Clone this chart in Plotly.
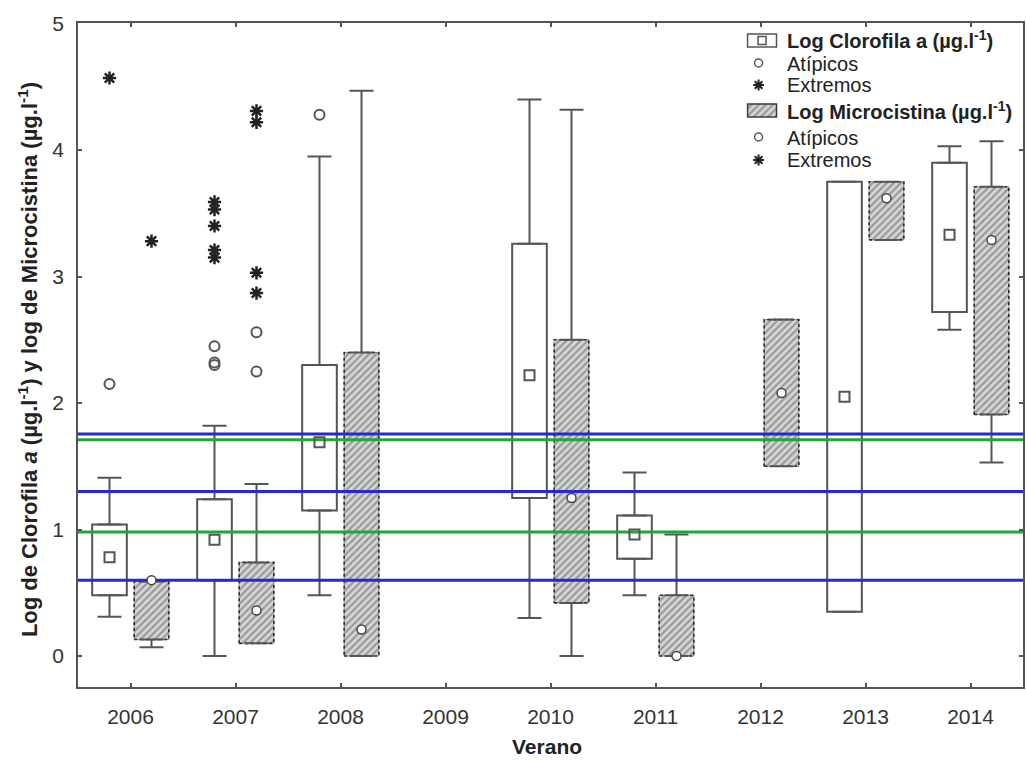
import plotly.graph_objects as go

# Summer campaigns
years = [2006, 2007, 2008, 2009, 2010, 2011, 2012, 2013, 2014]

# Log chlorophyll a: range / quartiles / median per summer (None = no data)
chl_min = [0.31, 0.00, 0.48, None, 0.30, 0.48, None, 0.35, 2.58]
chl_q1 = [0.48, 0.60, 1.15, None, 1.25, 0.77, None, 0.35, 2.72]
chl_med = [0.78, 0.92, 1.69, None, 2.22, 0.96, None, 2.05, 3.33]
chl_q3 = [1.04, 1.24, 2.30, None, 3.26, 1.11, None, 3.75, 3.90]
chl_max = [1.41, 1.82, 3.95, None, 4.40, 1.45, None, 3.75, 4.03]

# Log microcystin
mic_min = [0.07, 0.10, 0.00, None, 0.00, 0.00, 1.50, 3.29, 1.53]
mic_q1 = [0.13, 0.10, 0.00, None, 0.42, 0.00, 1.50, 3.29, 1.91]
mic_med = [0.60, 0.36, 0.21, None, 1.25, 0.00, 2.08, 3.62, 3.29]
mic_q3 = [0.59, 0.74, 2.40, None, 2.50, 0.48, 2.66, 3.75, 3.71]
mic_max = [0.59, 1.36, 4.47, None, 4.32, 0.96, 2.66, 3.75, 4.07]

# Outliers (atípicos) and extremes (extremos)
chl_out_year = [2006, 2007, 2007, 2007, 2008]
chl_out_val = [2.15, 2.45, 2.32, 2.30, 4.28]
chl_ext_year = [2006, 2007, 2007, 2007, 2007, 2007]
chl_ext_val = [4.57, 3.59, 3.53, 3.40, 3.21, 3.15]
mic_out_year = [2007, 2007]
mic_out_val = [2.56, 2.25]
mic_ext_year = [2006, 2007, 2007, 2007, 2007]
mic_ext_val = [3.28, 4.31, 4.22, 3.03, 2.87]

# Reference levels
blue_levels = [1.755, 1.30, 0.60]
green_levels = [1.71, 0.98]

FONT = "Arial, Liberation Sans, sans-serif"
EDGE = "#555555"
HATCH = dict(shape="/", fgcolor="#5a5a5a", size=5, solidity=0.42)
HATCH_BG = "#d6d6d6"
DX = 0.2       # half distance between paired boxes
BOXW = 0.33    # box width (in years)
XR = [2005.5, 2014.5]

fig = go.Figure()


def pos(vals, shift):
    return [y + shift for y in vals]


def boxes(q1, q3, shift, **kw):
    xs, base, h = [], [], []
    for y, a, b in zip(years, q1, q3):
        if a is None:
            continue
        xs.append(y + shift)
        base.append(a)
        h.append(b - a)
    fig.add_trace(go.Bar(x=xs, base=base, y=h, width=BOXW, showlegend=False,
                         hoverinfo="skip", **kw))


def dotted_outline(q1, q3, shift):
    # dashed border drawn around the hatched boxes
    px, py = [], []
    for y, a, b in zip(years, q1, q3):
        if a is None:
            continue
        x0, x1 = y + shift - BOXW / 2, y + shift + BOXW / 2
        px += [x0, x1, x1, x0, x0, None]
        py += [a, a, b, b, a, None]
    fig.add_trace(go.Scatter(x=px, y=py, mode="lines", showlegend=False,
                             hoverinfo="skip",
                             line=dict(color="#2e2e2e", width=1.6, dash="dot")))


def whiskers(lo, q1, q3, hi, shift):
    xs, top, up, bot, dn = [], [], [], [], []
    for y, a, b, c, d in zip(years, lo, q1, q3, hi):
        if a is None:
            continue
        xs.append(y + shift)
        top.append(c)
        up.append(d - c)
        bot.append(b)
        dn.append(b - a)
    common = dict(mode="markers", marker=dict(size=1, opacity=0), showlegend=False,
                  hoverinfo="skip")
    fig.add_trace(go.Scatter(x=xs, y=top, error_y=dict(type="data", symmetric=False,
                  array=up, arrayminus=[0] * len(up), width=12, thickness=2,
                  color=EDGE), **common))
    fig.add_trace(go.Scatter(x=xs, y=bot, error_y=dict(type="data", symmetric=False,
                  array=[0] * len(dn), arrayminus=dn, width=12, thickness=2,
                  color=EDGE), **common))


# boxes
boxes(chl_q1, chl_q3, -DX, marker=dict(color="rgba(255,255,255,0)",
      line=dict(color=EDGE, width=2)))
boxes(mic_q1, mic_q3, DX, marker=dict(color=HATCH_BG,
      line=dict(color="#8a8a8a", width=1), pattern=HATCH))
dotted_outline(mic_q1, mic_q3, DX)

whiskers(chl_min, chl_q1, chl_q3, chl_max, -DX)
whiskers(mic_min, mic_q1, mic_q3, mic_max, DX)

# reference lines
for lv in blue_levels:
    fig.add_trace(go.Scatter(x=XR, y=[lv, lv], mode="lines", showlegend=False,
                             line=dict(color="rgb(40,40,210)", width=3), hoverinfo="skip"))
for lv in green_levels:
    fig.add_trace(go.Scatter(x=XR, y=[lv, lv], mode="lines", showlegend=False,
                             line=dict(color="rgb(35,165,55)", width=3), hoverinfo="skip"))

# medians
fig.add_trace(go.Scatter(x=pos(years, -DX), y=chl_med, mode="markers", showlegend=False,
                         marker=dict(symbol="square-open", size=10, color=EDGE,
                                     line=dict(width=2))))
fig.add_trace(go.Scatter(x=pos(years, DX), y=mic_med, mode="markers", showlegend=False,
                         marker=dict(symbol="circle", size=9, color="white",
                                     line=dict(width=1.5, color="#444"))))

# outliers and extremes
out_m = dict(symbol="circle-open", size=10, color=EDGE, line=dict(width=2))
ext_m = dict(symbol="asterisk-open", size=11, color="#222", line=dict(width=2.5))
fig.add_trace(go.Scatter(x=pos(chl_out_year, -DX), y=chl_out_val, mode="markers",
                         marker=out_m, showlegend=False))
fig.add_trace(go.Scatter(x=pos(chl_ext_year, -DX), y=chl_ext_val, mode="markers",
                         marker=ext_m, showlegend=False))
fig.add_trace(go.Scatter(x=pos(mic_out_year, DX), y=mic_out_val, mode="markers",
                         marker=out_m, showlegend=False))
fig.add_trace(go.Scatter(x=pos(mic_ext_year, DX), y=mic_ext_val, mode="markers",
                         marker=ext_m, showlegend=False))

# ---- custom legend (icons drawn on a small pixel-scaled axis) ----
L, T, PW, PH = 78, 23, 947, 664


def xp(px):
    return (px - L) / PW


def yp(py):
    return (T + PH - py) / PH


rows = [40, 64, 85, 111, 138, 160]
fig.add_trace(go.Bar(x=[763.5], base=[47], y=[-13], width=29, xaxis="x2", yaxis="y2",
                     marker=dict(color="white", line=dict(color=EDGE, width=1.5)),
                     showlegend=False, hoverinfo="skip"))
fig.add_trace(go.Bar(x=[763.5], base=[117], y=[-13], width=29, xaxis="x2", yaxis="y2",
                     marker=dict(color=HATCH_BG, line=dict(color="#3c3c3c", width=1.5),
                                 pattern=HATCH),
                     showlegend=False, hoverinfo="skip"))
fig.add_trace(go.Scatter(x=[763.5], y=[40.5], mode="markers", xaxis="x2", yaxis="y2",
                         marker=dict(symbol="square-open", size=8, color=EDGE,
                                     line=dict(width=1.5)), showlegend=False))
fig.add_trace(go.Scatter(x=[760, 760], y=[rows[1] - 1, rows[4] - 1], mode="markers",
                         xaxis="x2", yaxis="y2",
                         marker=dict(symbol="circle-open", size=8, color=EDGE,
                                     line=dict(width=1.5)), showlegend=False))
fig.add_trace(go.Scatter(x=[760, 760], y=[rows[2], rows[5]], mode="markers", xaxis="x2",
                         yaxis="y2", marker=dict(symbol="asterisk-open", size=9, color="#222",
                                                 line=dict(width=2)), showlegend=False))

legend_text = [
    "<b>Log Clorofila a (µg.l<sup>-1</sup>)</b>",
    "Atípicos",
    "Extremos",
    "<b>Log Microcistina (µg.l<sup>-1</sup>)</b>",
    "Atípicos",
    "Extremos",
]
annotations = []
for r, t in zip(rows, legend_text):
    annotations.append(dict(x=xp(786), y=yp(r), xref="paper", yref="paper", text=t,
                            showarrow=False, xanchor="left", yanchor="middle",
                            font=dict(family=FONT, size=20, color="#222")))

annotations.append(dict(
    x=xp(28), y=yp(360), xref="paper", yref="paper", textangle=-90, showarrow=False,
    text="<b>Log de Clorofila <i>a</i> (µg.l<sup>-1</sup>) y log de Microcistina (µg.l<sup>-1</sup>)</b>",
    font=dict(family=FONT, size=22, color="#222"), xanchor="center", yanchor="middle"))
annotations.append(dict(
    x=xp(548), y=yp(746), xref="paper", yref="paper", showarrow=False,
    text="<b>Verano</b>", font=dict(family=FONT, size=21, color="#222"),
    xanchor="center", yanchor="middle"))

axis_common = dict(showline=True, linecolor=EDGE, linewidth=1.5, mirror="ticks",
                   ticks="inside", ticklen=4, tickwidth=1.5, tickcolor=EDGE,
                   showgrid=False, zeroline=False,
                   tickfont=dict(family=FONT, size=21, color="#333"))

fig.update_layout(
    width=1026, height=761,
    margin=dict(l=L, r=1026 - L - PW, t=T, b=761 - T - PH),
    paper_bgcolor="white", plot_bgcolor="white",
    barmode="overlay", showlegend=False,
    xaxis=dict(range=XR, tickvals=years, ticktext=[str(y) for y in years],
               ticklabelstandoff=10, **axis_common),
    yaxis=dict(range=[-0.245, 5.005], tickvals=[0, 1, 2, 3, 4, 5],
               ticklabelstandoff=8, **axis_common),
    xaxis2=dict(domain=[xp(745), xp(783)], range=[745, 783], visible=False,
                anchor="y2"),
    yaxis2=dict(domain=[yp(172), yp(28)], range=[172, 28], visible=False,
                anchor="x2"),
    annotations=annotations,
)

fig.write_html("out.html")
